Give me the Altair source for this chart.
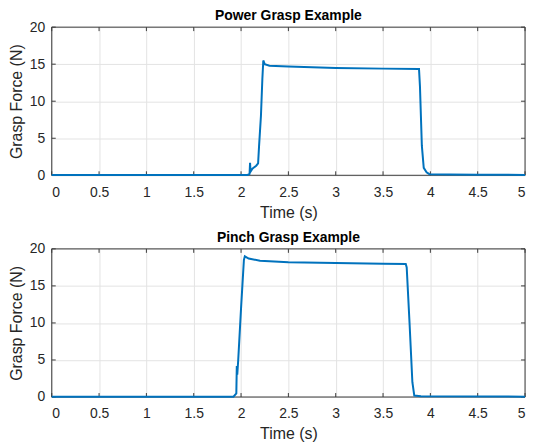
import altair as alt
import pandas as pd

# Power grasp trace (time s, force N)
power_t = [0.0, 1.0, 2.07, 2.09, 2.095, 2.10, 2.12, 2.16, 2.18, 2.19, 2.21, 2.225, 2.235,
           2.25, 2.3, 2.5, 3.0, 3.5, 3.88, 3.89, 3.91, 3.93, 3.96, 3.99, 4.2, 4.5, 5.0]
power_f = [0.05, 0.05, 0.05, 0.2, 1.7, 0.5, 0.9, 1.3, 1.6, 3.9, 8.0, 13.0, 15.5,
           15.0, 14.8, 14.7, 14.5, 14.4, 14.35, 12.0, 4.0, 1.0, 0.4, 0.15, 0.12, 0.08, 0.05]

# Pinch grasp trace (time s, force N)
pinch_t = [0.0, 1.0, 1.92, 1.95, 1.955, 1.96, 1.97, 2.0, 2.03, 2.04, 2.08, 2.2, 2.5,
           3.0, 3.5, 3.74, 3.75, 3.78, 3.81, 3.83, 3.9, 5.0]
pinch_f = [0.05, 0.05, 0.05, 0.5, 4.2, 3.0, 5.0, 12.0, 18.5, 19.0, 18.7, 18.4, 18.2,
           18.1, 18.0, 17.95, 17.5, 10.0, 2.0, 0.2, 0.1, 0.05]

titles = ["Power Grasp Example", "Pinch Grasp Example"]
x_ticks = [0, 0.5, 1, 1.5, 2, 2.5, 3, 3.5, 4, 4.5, 5]
y_ticks = [0, 5, 10, 15, 20]
x_range = [0, 5]
y_range = [0, 20]

FONT = "Liberation Sans"
TXT = "#262626"
FRAME = "#3a3a3a"
W, H = 476, 149


def panel(t, f, title):
    df = pd.DataFrame({"t": t, "f": f})
    xs = alt.Scale(domain=x_range, nice=False)
    ys = alt.Scale(domain=y_range, nice=False)
    xa = alt.Axis(values=x_ticks, title="Time (s)", format="~g", ticks=False, domain=False)
    ya = alt.Axis(values=y_ticks, title="Grasp Force (N)", ticks=False, domain=False)

    line = alt.Chart(df).mark_line(color="#0072BD", strokeWidth=2).encode(
        x=alt.X("t:Q", scale=xs, axis=xa),
        y=alt.Y("f:Q", scale=ys, axis=ya),
        order="t:Q",
    )

    frame_df = pd.DataFrame({"t": [x_range[0]], "t2": [x_range[1]],
                             "f": [y_range[0]], "f2": [y_range[1]]})
    frame = alt.Chart(frame_df).mark_rect(fill=None, stroke=FRAME, strokeWidth=1).encode(
        x=alt.X("t:Q", scale=xs, axis=xa), x2="t2:Q",
        y=alt.Y("f:Q", scale=ys, axis=ya), y2="f2:Q",
    )

    # inward tick marks (MATLAB style), length ~4 px expressed in data units
    ty = 4 * (y_range[1] - y_range[0]) / H
    tx = 4 * (x_range[1] - x_range[0]) / W
    xt_df = pd.DataFrame({"t": x_ticks})
    yt_df = pd.DataFrame({"f": y_ticks})
    xt_bot = alt.Chart(xt_df).mark_rule(color=FRAME).encode(
        x=alt.X("t:Q", scale=xs, axis=xa),
        y=alt.YDatum(y_range[0], scale=ys, axis=ya), y2=alt.datum(y_range[0] + ty))
    xt_top = alt.Chart(xt_df).mark_rule(color=FRAME).encode(
        x=alt.X("t:Q", scale=xs, axis=xa),
        y=alt.YDatum(y_range[1], scale=ys, axis=ya), y2=alt.datum(y_range[1] - ty))
    yt_left = alt.Chart(yt_df).mark_rule(color=FRAME).encode(
        y=alt.Y("f:Q", scale=ys, axis=ya),
        x=alt.XDatum(x_range[0], scale=xs, axis=xa), x2=alt.datum(x_range[0] + tx))
    yt_right = alt.Chart(yt_df).mark_rule(color=FRAME).encode(
        y=alt.Y("f:Q", scale=ys, axis=ya),
        x=alt.XDatum(x_range[1], scale=xs, axis=xa), x2=alt.datum(x_range[1] - tx))

    return alt.layer(frame, xt_bot, xt_top, yt_left, yt_right, line).properties(
        width=W, height=H,
        title=alt.TitleParams(title, fontSize=14, fontWeight="bold", font=FONT,
                              color="black", offset=-3, frame="group"),
    )


chart = alt.vconcat(
    panel(power_t, power_f, titles[0]),
    panel(pinch_t, pinch_f, titles[1]),
    spacing=11,
    background="white",
    padding=0,
).configure_axis(
    labelFont=FONT, titleFont=FONT, labelFontSize=14, titleFontSize=16,
    labelColor=TXT, titleColor=TXT, titleFontWeight="normal",
    gridColor="#e3e3e3", gridOpacity=1,
).configure_axisX(labelPadding=10, titlePadding=5).configure_axisY(
    labelPadding=7, titlePadding=5
).configure_view(stroke=None)

chart.save("out.html", embed_options={"renderer": "svg", "actions": False})
